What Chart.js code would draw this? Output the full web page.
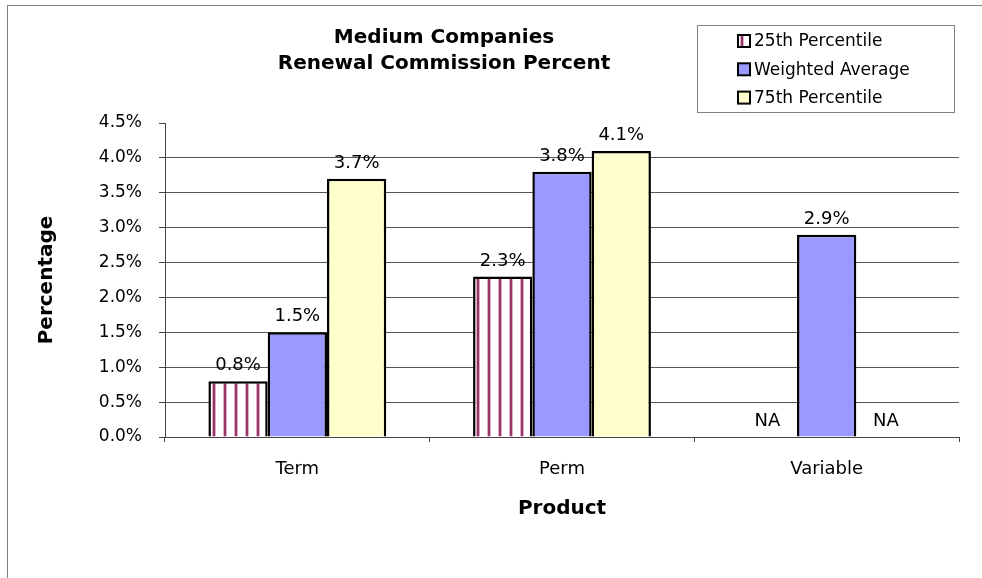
<!DOCTYPE html>
<html>
<head>
<meta charset="utf-8">
<script src="https://cdn.jsdelivr.net/npm/chart.js@4.4.0/dist/chart.umd.min.js"></script>
<style>
html, body { margin: 0; padding: 0; background: #fff; overflow: hidden; }
#wrap { position: relative; width: 982px; height: 578px; }
#frame { position: absolute; left: 7px; top: 5px; width: 1000px; height: 700px; border: 1px solid #808080; box-sizing: border-box; }
canvas { position: absolute; left: 0; top: 0; }
</style>
</head>
<body>
<div id="wrap"><div id="frame"></div><canvas id="chart" width="982" height="578"></canvas></div>
<script>
// chart values
const products = ['Term', 'Perm', 'Variable'];
const seriesNames = ['25th Percentile', 'Weighted Average', '75th Percentile'];
const p25 = [0.8, 2.3, null];      // null = NA
const weighted = [1.5, 3.8, 2.9];
const p75 = [3.7, 4.1, null];
const yMax = 4.5;
const yStep = 0.5;
const titleLines = ['Medium Companies', 'Renewal Commission Percent'];

const FONT = '"DejaVu Sans", Arial, sans-serif';

function stripes() {
    const c = document.createElement('canvas');
    c.width = 11; c.height = 11;
    const g = c.getContext('2d');
    g.fillStyle = '#fff'; g.fillRect(0, 0, 11, 11);
    g.fillStyle = '#dcb0c6'; g.fillRect(3, 0, 4, 11);
    g.fillStyle = '#993366'; g.fillRect(4, 0, 2, 11);
    return g.createPattern(c, 'repeat');
}
const stripeFill = stripes();
const fills = [stripeFill, '#9999FF', '#FFFFCC'];

const decor = {
    id: 'decor',
    afterDatasetsDraw(chart) {
        const ctx = chart.ctx;
        const y0 = chart.scales.y.getPixelForValue(0);
        const xs = chart.scales.x;
        const ref = chart.getDatasetMeta(1).data[0];
        const bw = ref ? ref.width : 0;
        ctx.save();
        ctx.font = '18px ' + FONT;
        ctx.fillStyle = '#000';
        ctx.textAlign = 'center';
        ctx.textBaseline = 'alphabetic';
        chart.data.datasets.forEach((ds, di) => {
            chart.getDatasetMeta(di).data.forEach((bar, i) => {
                const v = ds.data[i];
                let x = bar.x;
                if (!isFinite(x)) x = xs.getPixelForValue(i) + (di - 1) * bw;
                const top = v == null ? y0 : bar.y;
                ctx.fillText(v == null ? 'NA' : v.toFixed(1) + '%', x, top - 11);
            });
        });
        ctx.restore();
    },
    afterDraw(chart) {
        const ctx = chart.ctx;
        ctx.save();
        // title
        ctx.font = 'bold 20px ' + FONT;
        ctx.fillStyle = '#000';
        ctx.textAlign = 'center';
        ctx.textBaseline = 'alphabetic';
        ctx.fillText(titleLines[0], 444, 43);
        ctx.fillText(titleLines[1], 444, 69);
        // legend
        ctx.fillStyle = '#fff';
        ctx.fillRect(697, 25, 258, 88);
        ctx.strokeStyle = '#808080';
        ctx.lineWidth = 1;
        ctx.strokeRect(697.5, 25.5, 257, 87);
        ctx.font = '17px ' + FONT;
        ctx.textAlign = 'left';
        ctx.textBaseline = 'middle';
        seriesNames.forEach((name, i) => {
            const cy = 41 + i * 28.3;
            ctx.fillStyle = fills[i];
            ctx.fillRect(738, cy - 6, 12, 12);
            ctx.strokeStyle = '#000';
            ctx.lineWidth = 2;
            ctx.strokeRect(738, cy - 6, 12, 12);
            ctx.fillStyle = '#000';
            ctx.fillText(name, 754, cy + 1);
        });
        ctx.restore();
    }
};

const ctx = document.getElementById('chart');
new Chart(ctx, {
    type: 'bar',
    data: {
        labels: products,
        datasets: [p25, weighted, p75].map((d, i) => ({
            label: seriesNames[i],
            data: d,
            backgroundColor: fills[i],
            borderColor: '#000',
            borderWidth: 2.5,
            categoryPercentage: 0.672,
            barPercentage: 1
        }))
    },
    options: {
        responsive: false,
        animation: false,
        layout: { padding: { top: 123, right: 23, left: 0, bottom: 0 } },
        plugins: {
            legend: { display: false },
            title: { display: false },
            tooltip: { enabled: false }
        },
        scales: {
            x: {
                afterFit: s => { s.height = 141; },
                grid: { drawOnChartArea: false, drawTicks: true, tickLength: 5, color: '#444' },
                border: { color: '#444' },
                ticks: { color: '#000', font: { family: FONT, size: 18 }, padding: 17 },
                title: {
                    display: true, text: 'Product', color: '#000',
                    font: { family: FONT, size: 20, weight: 'bold' },
                    padding: { top: 0, bottom: 57 }
                }
            },
            y: {
                min: 0,
                max: yMax,
                afterFit: s => { s.width = 165; },
                grid: {
                    color: c => (c.tick && c.tick.value >= yMax) ? 'rgba(0,0,0,0)' : '#555',
                    tickColor: '#444',
                    tickLength: 6
                },
                border: { color: '#444' },
                ticks: {
                    stepSize: yStep,
                    color: '#000',
                    font: { family: FONT, size: 17 },
                    padding: 17,
                    callback: v => v.toFixed(1) + '%'
                },
                title: {
                    display: true, text: 'Percentage', color: '#000',
                    font: { family: FONT, size: 20, weight: 'bold' },
                    padding: { top: 35, bottom: 0 }
                }
            }
        }
    },
    plugins: [decor]
});
</script>
</body>
</html>
